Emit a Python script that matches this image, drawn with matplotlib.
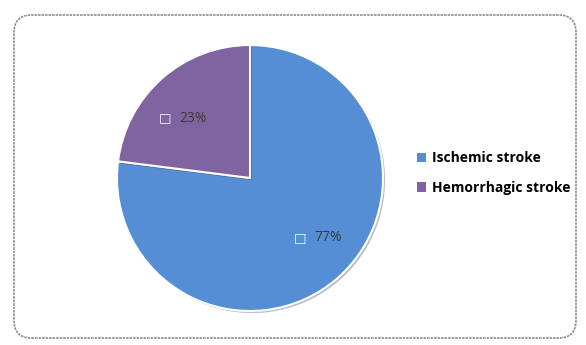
import matplotlib
matplotlib.use("Agg")
import matplotlib.pyplot as plt
from matplotlib.patches import FancyBboxPatch, Patch
import matplotlib.patheffects as pe

categories = ["Ischemic stroke", "Hemorrhagic stroke"]
values = [77, 23]
colors = ["#558ED5", "#8064A2"]

plt.rcParams['font.family'] = ['Open Sans', 'DejaVu Sans']

fig = plt.figure(figsize=(5.86, 3.45), dpi=100)
fig.patch.set_facecolor("white")

# rounded border
border = FancyBboxPatch((14/586, 7/345), 562/586, 323/345,
                        boxstyle="round,pad=0,rounding_size=0.03",
                        transform=fig.transFigure, facecolor="none",
                        edgecolor="#8c8c8c", linewidth=1.2, linestyle=(0, (1.5, 0.6)),
                        mutation_aspect=586/345, zorder=-5)
fig.patches.append(border)

ax = fig.add_axes([117/586, 1 - 311/345, 266/586, 266/345])
wedges, texts, autotexts = ax.pie(
    values, colors=colors, startangle=90, counterclock=False,
    autopct=lambda p: f"{p:.0f}%", pctdistance=0.68,
    wedgeprops=dict(edgecolor="white", linewidth=1.5),
    textprops=dict(color="#3a3a3a", fontsize=10))
for w in wedges:
    w.set_clip_on(False)
    w.set_path_effects([pe.SimplePatchShadow(offset=(1.5, -1.5), alpha=0.3), pe.Normal()])
for t in autotexts:
    x, y = t.get_position()
    nx, ny = x * 1.13 + 0.08, y * 0.884
    t.set_position((nx, ny))
    t.set_ha("center")
    ax.text(nx - 0.21, ny, "\u25a1", ha="center", va="center", color="white",
            fontsize=9.5, family="DejaVu Sans")
ax.set_xlim(-1.0, 1.0)
ax.set_ylim(-1.0, 1.0)
ax.set_aspect("equal")
ax.axis("off")

handles = [Patch(facecolor=c, edgecolor="none") for c in colors]
leg = fig.legend(handles, categories, loc="center left",
                 bbox_to_anchor=(404/586, 1 - 173/345), frameon=False,
                 prop=dict(weight="bold", size=10), handlelength=0.7,
                 handleheight=0.7, handletextpad=0.45, labelspacing=1.1)

fig.savefig("out.png", dpi=100, facecolor="white")
